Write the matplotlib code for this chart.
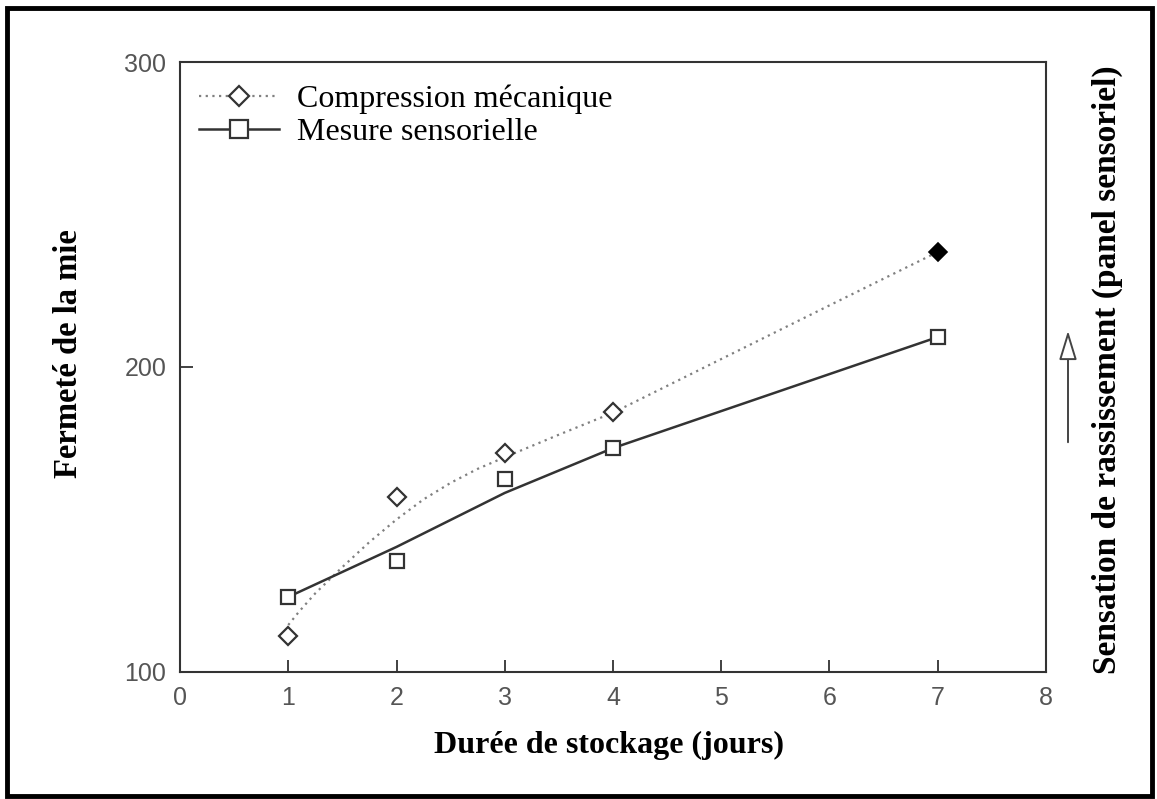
import matplotlib.pyplot as plt
from matplotlib.patches import Rectangle, FancyArrowPatch

# measured points
jours = [1, 2, 3, 4, 7]
compression = [111.8, 157.4, 171.8, 185.4, 237.7]
sensorielle = [124.6, 136.4, 163.3, 173.4, 209.8]

# fitted curves
fit_comp_x = [1, 1.1, 1.25, 1.5, 1.75, 2, 2.25, 2.5, 2.75, 3, 3.5, 4, 5, 6, 7]
fit_comp_y = [115.4, 119.8, 125.8, 134.4, 142.6, 150.0, 156.6, 162.0, 166.6, 170.4,
              177.8, 185.0, 202.6, 220.2, 237.7]
fit_sens_x = [1, 2, 3, 4, 5.5, 7]
fit_sens_y = [124.6, 141.0, 158.7, 173.4, 191.6, 209.8]

xticks = [0, 1, 2, 3, 4, 5, 6, 7, 8]
yticks = [100, 200, 300]

serif = 'Liberation Serif'
sans = 'Liberation Sans'
ink = '#333333'
tick_col = '#555555'

fig = plt.figure(figsize=(11.57, 7.99), dpi=100)
ax = fig.add_axes([0.1556, 0.159, 0.9040 - 0.1556, 0.9224 - 0.159])

ax.plot(fit_comp_x, fit_comp_y, color='#808080', lw=1.6, ls=(0, (1, 2.0)))
ax.plot(fit_sens_x, fit_sens_y, color=ink, lw=1.8)
ax.plot(jours[:-1], compression[:-1], ls='none', marker='D', ms=9,
        mfc='white', mec=ink, mew=1.6)
ax.plot(jours[-1:], compression[-1:], ls='none', marker='D', ms=9,
        mfc='black', mec='black', mew=1.2)
ax.plot(jours, sensorielle, ls='none', marker='s', ms=10,
        mfc='white', mec=ink, mew=1.6)

# legend handles
h1, = ax.plot([], [], color='#808080', lw=1.6, ls=(0, (1, 2.0)), marker='D',
              ms=10, mfc='white', mec=ink, mew=1.6)
h2, = ax.plot([], [], color=ink, lw=1.8, marker='s', ms=13,
              mfc='white', mec=ink, mew=1.6)
leg = ax.legend([h1, h2], ['Compression mécanique', 'Mesure sensorielle'],
                loc='upper left', bbox_to_anchor=(0.0, 0.995), frameon=False,
                prop={'family': serif, 'size': 23}, handlelength=2.5,
                handletextpad=0.55, labelspacing=0.12, borderaxespad=0.2)

ax.set_xlim(0, 8)
ax.set_ylim(100, 300)
ax.set_xticks(xticks)
ax.set_yticks(yticks)
ax.tick_params(direction='in', length=9, width=1.3, colors=ink,
               labelcolor=tick_col, labelsize=18, pad=10)
for lab in ax.get_xticklabels() + ax.get_yticklabels():
    lab.set_family(sans)
for s in ax.spines.values():
    s.set_color(ink)
    s.set_linewidth(1.5)

fig.text(0.059, 0.557, 'Fermeté de la mie', rotation=90, ha='center', va='center',
         family=serif, fontweight='bold', size=23.5)
fig.text(0.526, 0.067, 'Durée de stockage (jours)', ha='center', va='center',
         family=serif, fontweight='bold', size=23)
fig.text(0.957, 0.537, 'Sensation de rassissement (panel sensoriel)', rotation=90,
         ha='center', va='center', family=serif, fontweight='bold', size=24)

# arrow next to the right label
arr = FancyArrowPatch((1068 / 1157, 1 - 445 / 799), (1068 / 1157, 1 - 328 / 799),
                      transform=fig.transFigure,
                      arrowstyle='-|>,head_length=18,head_width=5.5',
                      color='#444444', lw=1.4, mutation_scale=1)
arr.set_facecolor('white')
fig.patches.append(arr)

# outer frame
fig.patches.append(Rectangle((7 / 1157, 3 / 799), 1145 / 1157, 788 / 799,
                             transform=fig.transFigure, fill=False,
                             edgecolor='black', lw=3.5))

fig.savefig('out.png', dpi=100)
